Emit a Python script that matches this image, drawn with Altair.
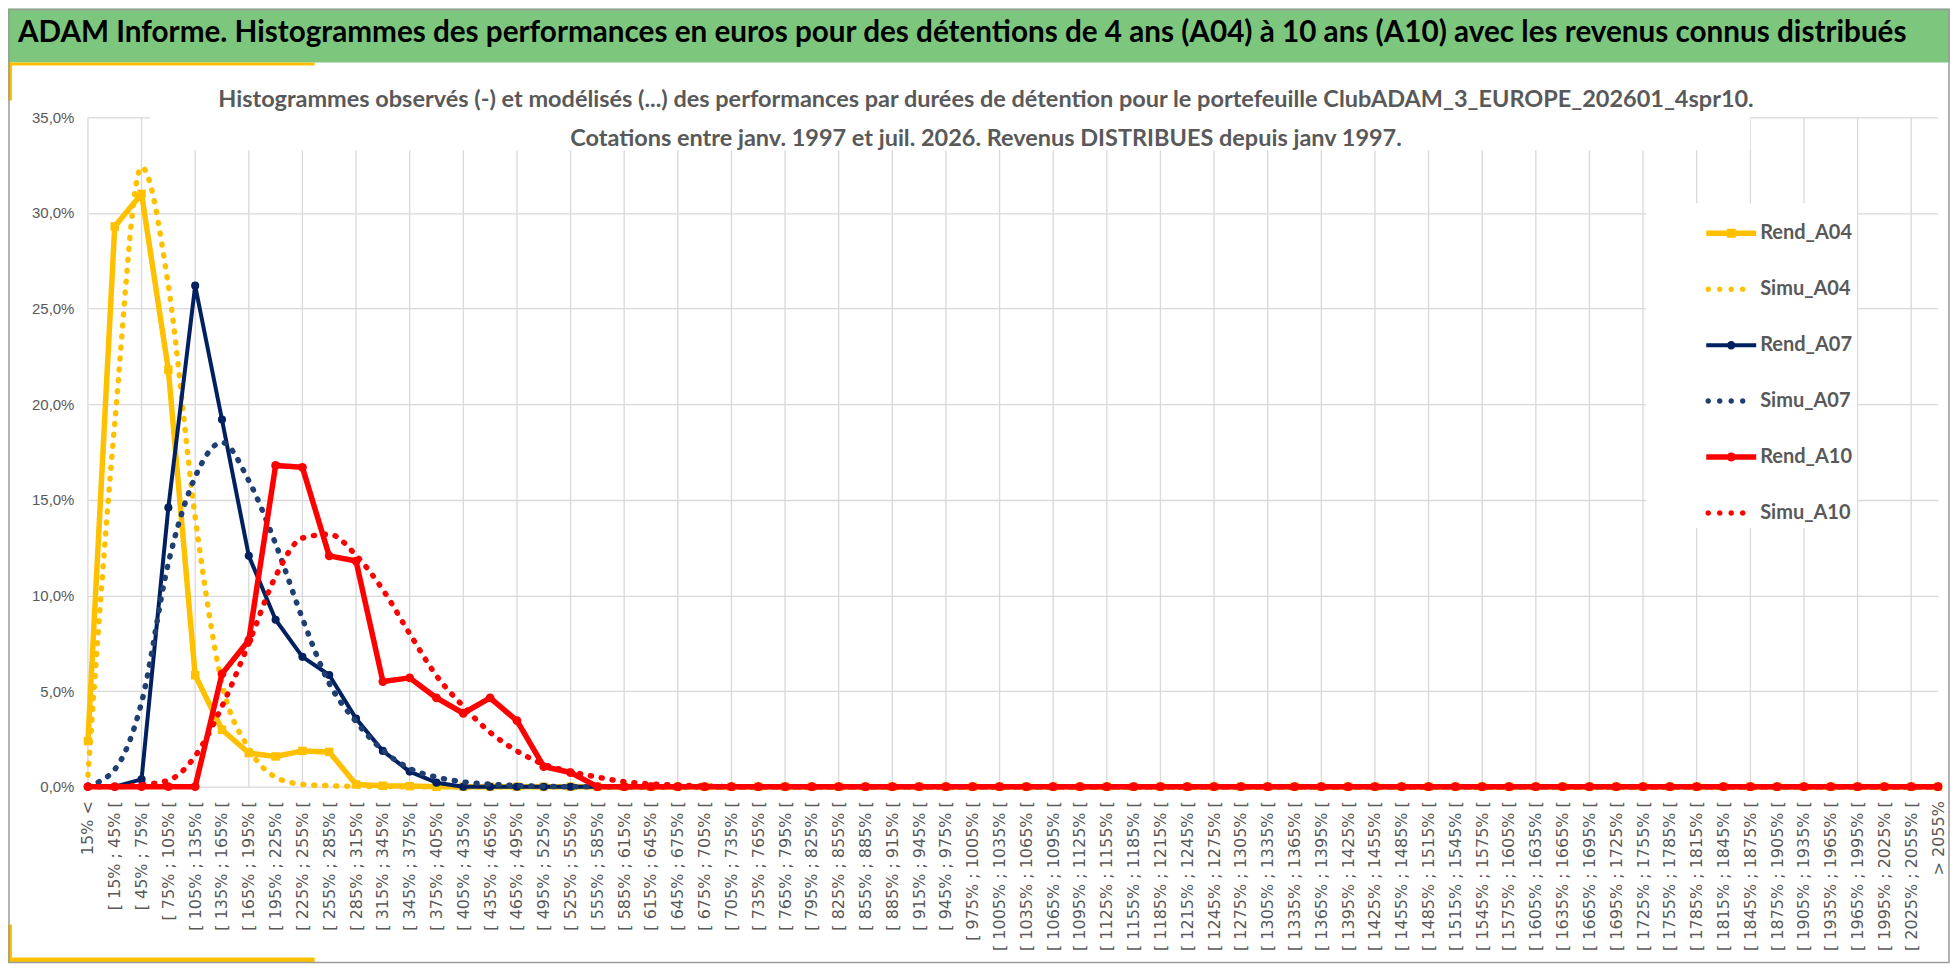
import altair as alt
import pandas as pd

# ---------------- data ----------------
LABELS = [
    "15%  <",
    "[ 15% ; 45% [", "[ 45% ; 75% [", "[ 75% ; 105% [", "[ 105% ; 135% [", "[ 135% ; 165% [",
    "[ 165% ; 195% [", "[ 195% ; 225% [", "[ 225% ; 255% [", "[ 255% ; 285% [", "[ 285% ; 315% [",
    "[ 315% ; 345% [", "[ 345% ; 375% [", "[ 375% ; 405% [", "[ 405% ; 435% [", "[ 435% ; 465% [",
    "[ 465% ; 495% [", "[ 495% ; 525% [", "[ 525% ; 555% [", "[ 555% ; 585% [", "[ 585% ; 615% [",
    "[ 615% ; 645% [", "[ 645% ; 675% [", "[ 675% ; 705% [", "[ 705% ; 735% [", "[ 735% ; 765% [",
    "[ 765% ; 795% [", "[ 795% ; 825% [", "[ 825% ; 855% [", "[ 855% ; 885% [", "[ 885% ; 915% [",
    "[ 915% ; 945% [", "[ 945% ; 975% [", "[ 975% ; 1005% [", "[ 1005% ; 1035% [", "[ 1035% ; 1065% [",
    "[ 1065% ; 1095% [", "[ 1095% ; 1125% [", "[ 1125% ; 1155% [", "[ 1155% ; 1185% [", "[ 1185% ; 1215% [",
    "[ 1215% ; 1245% [", "[ 1245% ; 1275% [", "[ 1275% ; 1305% [", "[ 1305% ; 1335% [", "[ 1335% ; 1365% [",
    "[ 1365% ; 1395% [", "[ 1395% ; 1425% [", "[ 1425% ; 1455% [", "[ 1455% ; 1485% [", "[ 1485% ; 1515% [",
    "[ 1515% ; 1545% [", "[ 1545% ; 1575% [", "[ 1575% ; 1605% [", "[ 1605% ; 1635% [", "[ 1635% ; 1665% [",
    "[ 1665% ; 1695% [", "[ 1695% ; 1725% [", "[ 1725% ; 1755% [", "[ 1755% ; 1785% [", "[ 1785% ; 1815% [",
    "[ 1815% ; 1845% [", "[ 1845% ; 1875% [", "[ 1875% ; 1905% [", "[ 1905% ; 1935% [", "[ 1935% ; 1965% [",
    "[ 1965% ; 1995% [", "[ 1995% ; 2025% [", "[ 2025% ; 2055% [",
    "> 2055%",
]

REND_A04 = [
    0.0238, 0.293, 0.310, 0.218, 0.0583, 0.0298, 0.0176, 0.0158, 0.0187, 0.0182,
    0.0012, 0.0005, 0.0003, 0.0, 0.0, 0.0, 0.0, 0.0, 0.0, 0.0,
    0.0, 0.0, 0.0, 0.0, 0.0, 0.0, 0.0, 0.0, 0.0, 0.0,
    0.0, 0.0, 0.0, 0.0, 0.0, 0.0, 0.0, 0.0, 0.0, 0.0,
    0.0, 0.0, 0.0, 0.0, 0.0, 0.0, 0.0, 0.0, 0.0, 0.0,
    0.0, 0.0, 0.0, 0.0, 0.0, 0.0, 0.0, 0.0, 0.0, 0.0,
    0.0, 0.0, 0.0, 0.0, 0.0, 0.0, 0.0, 0.0, 0.0, 0.0,
]
SIMU_A04 = [
    0.006, 0.190, 0.324, 0.262, 0.141, 0.054, 0.020, 0.005, 0.0012, 0.0005,
    0.0002, 0.0001, 0.0, 0.0, 0.0, 0.0, 0.0, 0.0, 0.0, 0.0,
    0.0, 0.0, 0.0, 0.0, 0.0, 0.0, 0.0, 0.0, 0.0, 0.0,
    0.0, 0.0, 0.0, 0.0, 0.0, 0.0, 0.0, 0.0, 0.0, 0.0,
    0.0, 0.0, 0.0, 0.0, 0.0, 0.0, 0.0, 0.0, 0.0, 0.0,
    0.0, 0.0, 0.0, 0.0, 0.0, 0.0, 0.0, 0.0, 0.0, 0.0,
    0.0, 0.0, 0.0, 0.0, 0.0, 0.0, 0.0, 0.0, 0.0, 0.0,
]
REND_A07 = [
    0.0, 0.0, 0.0038, 0.146, 0.262, 0.192, 0.1207, 0.0873, 0.0679, 0.0584,
    0.0356, 0.0187, 0.0079, 0.0021, 0.0, 0.0, 0.0, 0.0, 0.0, 0.0,
    0.0, 0.0, 0.0, 0.0, 0.0, 0.0, 0.0, 0.0, 0.0, 0.0,
    0.0, 0.0, 0.0, 0.0, 0.0, 0.0, 0.0, 0.0, 0.0, 0.0,
    0.0, 0.0, 0.0, 0.0, 0.0, 0.0, 0.0, 0.0, 0.0, 0.0,
    0.0, 0.0, 0.0, 0.0, 0.0, 0.0, 0.0, 0.0, 0.0, 0.0,
    0.0, 0.0, 0.0, 0.0, 0.0, 0.0, 0.0, 0.0, 0.0, 0.0,
]
SIMU_A07 = [
    0.0005, 0.009, 0.044, 0.117, 0.162, 0.180, 0.160, 0.127, 0.088, 0.054,
    0.034, 0.019, 0.0095, 0.005, 0.0025, 0.0013, 0.0006, 0.0002, 0.0, 0.0,
    0.0, 0.0, 0.0, 0.0, 0.0, 0.0, 0.0, 0.0, 0.0, 0.0,
    0.0, 0.0, 0.0, 0.0, 0.0, 0.0, 0.0, 0.0, 0.0, 0.0,
    0.0, 0.0, 0.0, 0.0, 0.0, 0.0, 0.0, 0.0, 0.0, 0.0,
    0.0, 0.0, 0.0, 0.0, 0.0, 0.0, 0.0, 0.0, 0.0, 0.0,
    0.0, 0.0, 0.0, 0.0, 0.0, 0.0, 0.0, 0.0, 0.0, 0.0,
]
REND_A10 = [
    0.0, 0.0, 0.0, 0.0, 0.0, 0.059, 0.0766, 0.168, 0.167, 0.1207,
    0.118, 0.055, 0.0569, 0.0464, 0.0384, 0.0464, 0.0345, 0.0105, 0.0074, 0.0,
    0.0, 0.0, 0.0, 0.0, 0.0, 0.0, 0.0, 0.0, 0.0, 0.0,
    0.0, 0.0, 0.0, 0.0, 0.0, 0.0, 0.0, 0.0, 0.0, 0.0,
    0.0, 0.0, 0.0, 0.0, 0.0, 0.0, 0.0, 0.0, 0.0, 0.0,
    0.0, 0.0, 0.0, 0.0, 0.0, 0.0, 0.0, 0.0, 0.0, 0.0,
    0.0, 0.0, 0.0, 0.0, 0.0, 0.0, 0.0, 0.0, 0.0, 0.0,
]
SIMU_A10 = [
    0.0, 0.0, 0.001, 0.0033, 0.016, 0.042, 0.075, 0.110, 0.130, 0.132,
    0.121, 0.103, 0.080, 0.058, 0.042, 0.0284, 0.0187, 0.0117, 0.0079, 0.005,
    0.0026, 0.0014, 0.0008, 0.0003, 0.0, 0.0, 0.0, 0.0, 0.0, 0.0,
    0.0, 0.0, 0.0, 0.0, 0.0, 0.0, 0.0, 0.0, 0.0, 0.0,
    0.0, 0.0, 0.0, 0.0, 0.0, 0.0, 0.0, 0.0, 0.0, 0.0,
    0.0, 0.0, 0.0, 0.0, 0.0, 0.0, 0.0, 0.0, 0.0, 0.0,
    0.0, 0.0, 0.0, 0.0, 0.0, 0.0, 0.0, 0.0, 0.0, 0.0,
]

SERIES = ["Rend_A04", "Simu_A04", "Rend_A07", "Simu_A07", "Rend_A10", "Simu_A10"]
COLORS = ["#FFC000", "#FFC000", "#002060", "#1F3F73", "#FF0000", "#FF0000"]
Y_TICKS = [0.0, 0.05, 0.10, 0.15, 0.20, 0.25, 0.30, 0.35]

HEADER = ("ADAM Informe. Histogrammes des performances en euros pour des détentions "
          "de 4 ans (A04) à 10 ans (A10) avec les revenus connus distribués")
SUB1 = ("Histogrammes observés (-) et modélisés (...) des performances par durées de "
        "détention pour le portefeuille ClubADAM_3_EUROPE_202601_4spr10.")
SUB2 = "Cotations entre janv. 1997 et juil. 2026. Revenus DISTRIBUES depuis janv 1997."

# ---------------- styles ----------------
GRID = "#D9D9D9"
TXT = "#595959"
TFONT = "Lato"
W, H = 1852, 670

df = pd.DataFrame({"cat": LABELS, "Rend_A04": REND_A04, "Simu_A04": SIMU_A04,
                   "Rend_A07": REND_A07, "Simu_A07": SIMU_A07,
                   "Rend_A10": REND_A10, "Simu_A10": SIMU_A10})
grid_df = pd.DataFrame({"cat": LABELS[::2]})
ONE = alt.Data(values=[{}])

xscale = alt.Scale(type="point", domain=LABELS, padding=0)
yscale = alt.Scale(domain=[0, 0.35], nice=False)

x_axis = alt.Axis(labelAngle=-90, labelAlign="right", labelBaseline="middle",
                  labelOverlap=False, labelPadding=14, ticks=False, domain=False,
                  grid=False, title=None, labelFontSize=16, labelFont="DejaVu Sans",
                  labelColor=TXT, labelLimit=300)
y_axis = alt.Axis(values=Y_TICKS, labelExpr="replace(format(datum.value, '.1%'), '.', ',')",
                  grid=True, gridColor=GRID, gridWidth=1.3, domain=False, ticks=False,
                  labelPadding=14, labelFontSize=15, labelFont="Liberation Sans",
                  labelColor=TXT, title=None)


def xe():
    return alt.X("cat:N", scale=xscale, sort=None, axis=x_axis)


def ye(col):
    return alt.Y(f"{col}:Q", scale=yscale, axis=y_axis)


grid = alt.Chart(grid_df).mark_rule(color=GRID, strokeWidth=1.3).encode(x=xe())

cover = alt.Chart(ONE).mark_rect(color="white").encode(
    x=alt.value(62), x2=alt.value(1664), y=alt.value(-4), y2=alt.value(33))


def rend(col, color, width, shape, size):
    return alt.Chart(df).mark_line(
        color=color, strokeWidth=width, strokeJoin="round",
        point=alt.OverlayMarkDef(filled=True, shape=shape, size=size, color=color, opacity=1),
    ).encode(x=xe(), y=ye(col))


def simu(col, color):
    return alt.Chart(df).mark_line(
        color=color, strokeWidth=5.5, strokeDash=[1, 10], strokeCap="round",
        interpolate="monotone",
    ).encode(x=xe(), y=ye(col))


def circ(cx, r):
    return f"M{cx - r},0A{r},{r} 0 1,1 {cx + r},0A{r},{r} 0 1,1 {cx - r},0Z"


DOTS = "".join(circ(c, 0.11) for c in (-0.92, -0.46, 0.0, 0.46))
PATHS = [
    "M-1,-0.11H1V0.11H-1Z M-0.18,-0.18H0.18V0.18H-0.18Z",
    DOTS,
    "M-1,-0.08H1V0.08H-1Z" + circ(0, 0.17),
    DOTS,
    "M-1,-0.11H1V0.11H-1Z" + circ(0, 0.18),
    DOTS,
]

LEG = alt.Legend(title=None, orient="none", legendX=1560, legendY=86, fillColor="white",
                 padding=5, symbolOffset=55, labelOffset=4, rowPadding=21, symbolSize=2500,
                 symbolStrokeWidth=0, labelFont=TFONT, labelFontSize=20,
                 labelFontWeight="bold", labelColor=TXT, labelLimit=260,
                 labelExpr="datum.label + '            '")

legend = alt.Chart(alt.Data(values=[{"series": s} for s in SERIES])).transform_filter(
    "false").mark_point(filled=True, opacity=1).encode(
    color=alt.Color("series:N", scale=alt.Scale(domain=SERIES, range=COLORS), legend=LEG),
    shape=alt.Shape("series:N", scale=alt.Scale(domain=SERIES, range=PATHS), legend=LEG),
)

sub1 = alt.Chart(ONE).mark_text(font=TFONT, fontSize=23.5, fontWeight="bold", color=TXT,
                                align="center", baseline="middle").encode(
    x=alt.value(899), y=alt.value(-17), text=alt.value(SUB1))
sub2 = alt.Chart(ONE).mark_text(font=TFONT, fontSize=23.5, fontWeight="bold", color=TXT,
                                align="center", baseline="middle").encode(
    x=alt.value(899), y=alt.value(22), text=alt.value(SUB2))

band = alt.Chart(ONE).mark_rect(color="#7DC67E").encode(
    x=alt.value(-80), x2=alt.value(W + 12), y=alt.value(-109), y2=alt.value(-55))
head = alt.Chart(ONE).mark_text(font=TFONT, fontSize=29.7, fontWeight="bold", color="black",
                                align="left", baseline="middle").encode(
    x=alt.value(-70), y=alt.value(-84), text=alt.value(HEADER))

acc1 = alt.Chart(ONE).mark_rect(color="#FFC000").encode(
    x=alt.value(-80), x2=alt.value(227), y=alt.value(-55), y2=alt.value(-52))
acc2 = alt.Chart(ONE).mark_rect(color="#FFC000").encode(
    x=alt.value(-80), x2=alt.value(-76), y=alt.value(-55), y2=alt.value(-17))
acc3 = alt.Chart(ONE).mark_rect(color="#FFC000").encode(
    x=alt.value(-80), x2=alt.value(227), y=alt.value(841), y2=alt.value(846))
acc4 = alt.Chart(ONE).mark_rect(color="#FFC000").encode(
    x=alt.value(-80), x2=alt.value(-76), y=alt.value(808), y2=alt.value(846))
border = alt.Chart(ONE).mark_rect(fillOpacity=0, stroke="#9A9A9A", strokeWidth=1.5).encode(
    x=alt.value(-79), x2=alt.value(W + 11), y=alt.value(-108), y2=alt.value(846))

chart = alt.layer(
    grid, cover,
    rend("Rend_A04", "#FFC000", 5.5, "square", 72),
    simu("Simu_A04", "#FFC000"),
    rend("Rend_A07", "#002060", 4, "circle", 66),
    simu("Simu_A07", "#1F3F73"),
    rend("Rend_A10", "#FF0000", 5.5, "circle", 78),
    simu("Simu_A10", "#FF0000"),
    legend, sub1, sub2, band, head, acc1, acc2, acc3, acc4, border,
).properties(
    width=W, height=H,
    autosize=alt.AutoSizeParams(type="none"),
    padding={"left": 80, "top": 109, "right": 12, "bottom": 178},
    background="white",
).configure_view(stroke=None)

chart.save("out.html", embed_options={"renderer": "svg", "actions": False})
